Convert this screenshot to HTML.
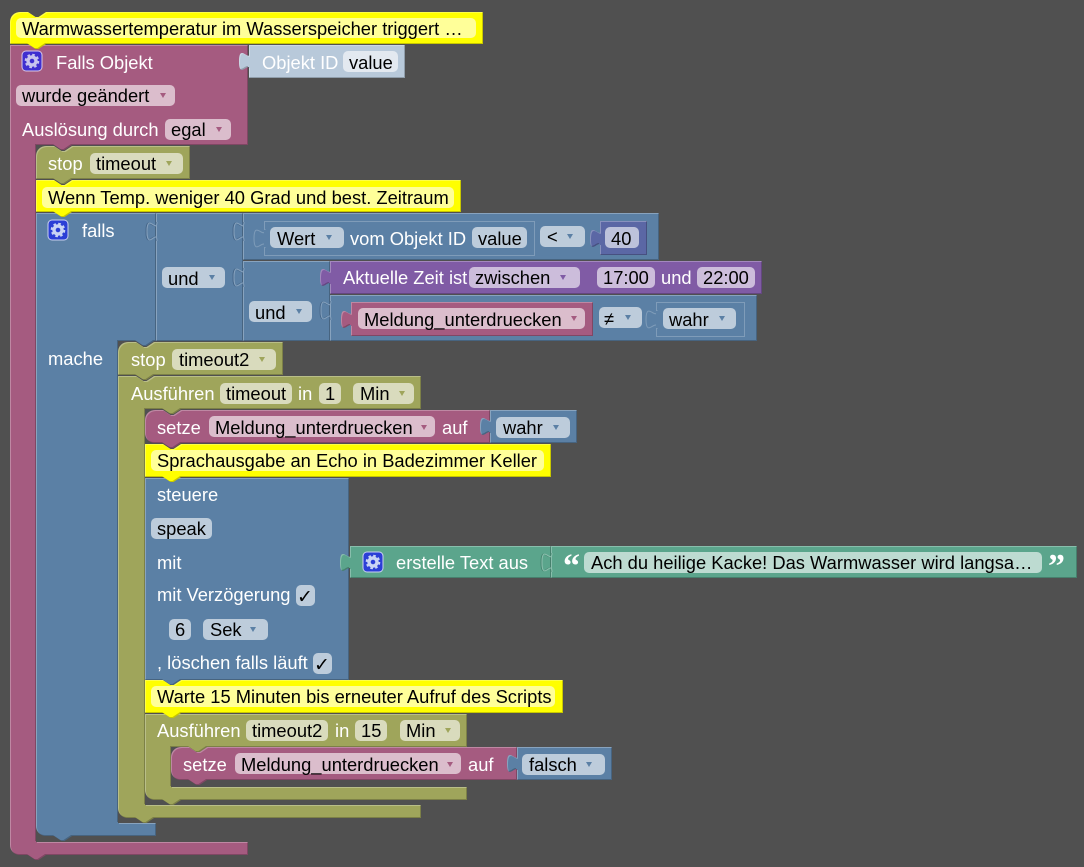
<!DOCTYPE html>
<html><head><meta charset="utf-8"><style>
html,body{margin:0;padding:0;background:#505050}
svg{display:block}
text{font-family:"Liberation Sans",sans-serif;font-size:18.33px;white-space:pre}
.w{fill:#fff}.k{fill:#000}
.m{fill:#a55b80}.b{fill:#5b80a5}.o{fill:#9fa55b}.p{fill:#805ba5}.t{fill:#5ba58c}.i{fill:#5b67a5}.y{fill:#ff0}.l{fill:#b8c9da}
.f{filter:url(#bev)}
.fm{fill:#dbbdcc}.fb{fill:#bdccdb}.fo{fill:#d9dbbd}.fy{fill:#ff9}.fp{fill:#ccbddb}.ft{fill:#bddbd1}.fi{fill:#bdc2db}.fl{fill:#e3e9f0}
.am{fill:#a55b80}.ab{fill:#5b80a5}.ao{fill:#9fa55b}.ap{fill:#805ba5}
.q{font-family:"Liberation Serif",serif;font-size:34px;font-weight:bold}
.c{font-family:"DejaVu Sans",sans-serif;font-size:19px}
</style></head><body>
<svg width="1084" height="867" viewBox="0 0 1084 867" xmlns="http://www.w3.org/2000/svg">
<defs>
<filter id="bev" x="-5%" y="-10%" width="110%" height="120%" color-interpolation-filters="sRGB">
<feOffset in="SourceAlpha" dx="1" dy="1" result="o1"/>
<feComposite in="SourceAlpha" in2="o1" operator="out" result="lt"/>
<feFlood flood-color="#fff" flood-opacity=".28"/><feComposite in2="lt" operator="in" result="ltc"/>
<feOffset in="SourceAlpha" dx="-1" dy="-1" result="o2"/>
<feComposite in="SourceAlpha" in2="o2" operator="out" result="dk"/>
<feFlood flood-color="#000" flood-opacity=".22"/><feComposite in2="dk" operator="in" result="dkc"/>
<feMerge><feMergeNode in="SourceGraphic"/><feMergeNode in="ltc"/><feMergeNode in="dkc"/></feMerge>
</filter>
<path id="tab" d="M1 0c0 12-11-10-11 9.500s11-3 11 9.500z"/>
<g id="sock"><path d="M0 0c0 12-10-10-10 9.500s10-3 10 9.500" fill="none" stroke="#47678a"/><path d="M1 0c0 12-10-10-10 9.500s10-3 10 9.500" fill="none" stroke="#84a0bc"/></g>
<g id="sockt"><path d="M0 0c0 12-10-10-10 9.500s10-3 10 9.500" fill="none" stroke="#478570"/><path d="M1 0c0 12-10-10-10 9.500s10-3 10 9.500" fill="none" stroke="#8cc0ae"/></g>
<g id="gear"><circle r="4" fill="none" stroke-width="3.400"/><circle r="6.200" fill="none" stroke-width="2.200" stroke-dasharray="2.600 2.270"/></g>
</defs>
<rect width="1084" height="867" fill="#505050"/>

<!-- inner setze + falsch -->
<path class="m f" d="M171 757a10 10 0 0 1 10-10H189l7.500 5h3l7.500-5H517V780H207l-7.500 5h-3l-7.500-5H181a10 10 0 0 1-10-10Z"/>
<g class="f"><path class="b" d="M517 747H612V780H517Z"/><use href="#tab" transform="translate(517 754)" class="b"/></g>
<text class="w" x="183" y="771">setze</text>
<rect class="fm" x="235" y="753" width="226" height="21" rx="5"/>
<text class="k" x="241" y="771">Meldung_unterdruecken</text>
<path class="am" d="M447 762h6l-3 5z"/>
<text class="w" x="468" y="771">auf</text>
<rect class="fb" x="522" y="754" width="83" height="21" rx="5"/>
<text class="k" x="529" y="771">falsch</text>
<path class="ab" d="M586 762h6l-3 5z"/>

<!-- inner Ausfuehren -->
<path class="o f" d="M145 714H467V747H207l-7.500 5h-3l-7.500-5H171V787H467V800H181l-7.500 5h-3l-7.500-5H155a10 10 0 0 1-10-10Z"/>
<text class="w" x="157" y="737">Ausführen</text>
<rect class="fo" x="246" y="720" width="82" height="21" rx="5"/>
<text class="k" x="252" y="737">timeout2</text>
<text class="w" x="335" y="737">in</text>
<rect class="fo" x="355" y="720" width="32" height="21" rx="5"/>
<text class="k" x="361" y="737">15</text>
<rect class="fo" x="400" y="720" width="60" height="21" rx="5"/>
<text class="k" x="406" y="737">Min</text>
<path class="ao" d="M445 728h6l-3 5z"/>

<!-- comment 4 -->
<path class="y f" d="M145 680H163l7.500 5h3l7.500-5H563V713H181l-7.500 5h-3l-7.500-5H145Z"/>
<rect class="fy" x="151" y="686" width="404" height="21" rx="5"/>
<text class="k" x="157" y="703">Warte 15 Minuten bis erneuter Aufruf des Scripts</text>

<!-- steuere -->
<path class="b f" d="M145 478H349V680H181l-7.500 5h-3l-7.500-5H145Z"/>
<text class="w" x="157" y="501">steuere</text>
<rect class="fb" x="151" y="518" width="61" height="21" rx="5"/>
<text class="k" x="157" y="535">speak</text>
<text class="w" x="157" y="569">mit</text>
<text class="w" x="157" y="601">mit Verzögerung</text>
<rect class="fb" x="296" y="585" width="19" height="21" rx="5"/>
<text class="k c" x="297" y="603">✓</text>
<rect class="fb" x="169" y="619" width="22" height="21" rx="5"/>
<text class="k" x="175" y="636">6</text>
<rect class="fb" x="203" y="619" width="65" height="21" rx="5"/>
<text class="k" x="210" y="636">Sek</text>
<path class="ab" d="M250 627h6l-3 5z"/>
<text class="w" x="157" y="669">, löschen falls läuft</text>
<rect class="fb" x="313" y="653" width="19" height="21" rx="5"/>
<text class="k c" x="314" y="671">✓</text>

<!-- teal -->
<path class="t f" d="M551 546H1077V578H551Z"/>
<g class="f"><path class="t" d="M350 546H551V578H350Z"/><use href="#tab" transform="translate(350 553)" class="t"/></g>
<use href="#sockt" transform="translate(551 553)"/>
<rect x="363" y="552" width="20" height="20" rx="4" fill="#2b3fd6" stroke="#c9d0f0"/>
<use href="#gear" transform="translate(373 562)" stroke="#c9d4f4"/>
<text class="w" x="396" y="569">erstelle Text aus</text>
<text class="w q" x="563" y="577">“</text>
<rect class="ft" x="584" y="552" width="458" height="21" rx="5"/>
<text class="k" x="591" y="569">Ach du heilige Kacke! Das Warmwasser wird langsa…</text>
<text class="w q" x="1048" y="577">”</text>

<!-- comment 3 -->
<path class="y f" d="M145 444H163l7.500 5h3l7.500-5H551V477H181l-7.500 5h-3l-7.500-5H145Z"/>
<rect class="fy" x="151" y="450" width="393" height="21" rx="5"/>
<text class="k" x="157" y="467">Sprachausgabe an Echo in Badezimmer Keller</text>

<!-- setze 1 -->
<path class="m f" d="M145 420a10 10 0 0 1 10-10H163l7.500 5h3l7.500-5H490V443H181l-7.500 5h-3l-7.500-5H155a10 10 0 0 1-10-10Z"/>
<g class="f"><path class="b" d="M490 410H577V443H490Z"/><use href="#tab" transform="translate(490 417)" class="b"/></g>
<text class="w" x="157" y="434">setze</text>
<rect class="fm" x="209" y="416" width="226" height="21" rx="5"/>
<text class="k" x="215" y="434">Meldung_unterdruecken</text>
<path class="am" d="M421 425h6l-3 5z"/>
<text class="w" x="442" y="434">auf</text>
<rect class="fb" x="496" y="417" width="74" height="21" rx="5"/>
<text class="k" x="503" y="434">wahr</text>
<path class="ab" d="M553 425h6l-3 5z"/>

<!-- outer Ausfuehren -->
<path class="o f" d="M118 376H136l7.500 5h3l7.500-5H421V409H181l-7.500 5h-3l-7.500-5H145V805H421V818H154l-7.500 5h-3l-7.500-5H128a10 10 0 0 1-10-10Z"/>
<text class="w" x="131" y="400">Ausführen</text>
<rect class="fo" x="220" y="383" width="72" height="21" rx="5"/>
<text class="k" x="226" y="400">timeout</text>
<text class="w" x="298" y="400">in</text>
<rect class="fo" x="319" y="383" width="22" height="21" rx="5"/>
<text class="k" x="325" y="400">1</text>
<rect class="fo" x="353" y="383" width="61" height="21" rx="5"/>
<text class="k" x="360" y="400">Min</text>
<path class="ao" d="M399 391h6l-3 5z"/>

<!-- stop timeout2 -->
<path class="o f" d="M118 352a10 10 0 0 1 10-10H136l7.500 5h3l7.500-5H283V375H154l-7.500 5h-3l-7.500-5H118Z"/>
<text class="w" x="131" y="366">stop</text>
<rect class="fo" x="172" y="349" width="104" height="21" rx="5"/>
<text class="k" x="179" y="366">timeout2</text>
<path class="ao" d="M259 357h6l-3 5z"/>

<!-- falls main -->
<path class="b f" d="M36 213H156V341H154l-7.500 5h-3l-7.500-5H118V823H156V836H72l-7.500 5h-3l-7.500-5H46a10 10 0 0 1-10-10Z"/>
<use href="#sock" transform="translate(156 222)"/>
<rect x="48" y="220" width="20" height="20" rx="4" fill="#2b3fd6" stroke="#c9d0f0"/>
<use href="#gear" transform="translate(58 230)" stroke="#c9d4f4"/>
<text class="w" x="82" y="237">falls</text>
<text class="w" x="48" y="365">mache</text>

<!-- outer und -->
<path class="b f" d="M156 213H243V341H156Z"/>
<use href="#sock" transform="translate(156 222)"/>
<use href="#sock" transform="translate(243 222)"/>
<use href="#sock" transform="translate(243 268)"/>
<rect class="fb" x="162" y="267" width="63" height="21" rx="5"/>
<text class="k" x="168" y="285">und</text>
<path class="ab" d="M209 275h6l-3 5z"/>

<!-- Wert row -->
<path class="b f" d="M243 213H659V260H243Z"/>
<use href="#sock" transform="translate(243 222)"/>
<path class="b" d="M264.500 221.500H534.500V255.500H264.500Z" stroke="#7f9cb9"/>
<g><use href="#tab" transform="translate(264 229)" class="b" stroke="#7f9cb9"/><rect class="b" x="264" y="230" width="2" height="17"/></g>
<rect class="fb" x="270" y="227" width="74" height="21" rx="5"/>
<text class="k" x="277" y="245">Wert</text>
<path class="ab" d="M326 235h6l-3 5z"/>
<text class="w" x="350" y="245">vom Objekt ID</text>
<rect class="fb" x="472" y="227" width="55" height="21" rx="5"/>
<text class="k" x="478" y="245">value</text>
<rect class="fb" x="540" y="226" width="45" height="21" rx="5"/>
<text class="k" x="547" y="243">&lt;</text>
<path class="ab" d="M567 234h6l-3 5z"/>
<g class="f"><path class="i" d="M600 221H647V255H600Z"/><use href="#tab" transform="translate(600 229)" class="i"/></g>
<rect class="fi" x="605" y="227" width="34" height="21" rx="5"/>
<text class="k" x="611" y="245">40</text>

<!-- inner und -->
<path class="b f" d="M243 261H330V341H243Z"/>
<use href="#sock" transform="translate(243 268)"/>
<path class="b f" d="M330 295H757V341H330Z"/>
<use href="#sock" transform="translate(330 301)"/>
<rect class="fb" x="249" y="301" width="63" height="21" rx="5"/>
<text class="k" x="255" y="319">und</text>
<path class="ab" d="M296 309h6l-3 5z"/>
<g class="f"><path class="p" d="M330 261H762V294H330Z"/><use href="#tab" transform="translate(330 268)" class="p"/></g>
<text class="w" x="343" y="284">Aktuelle Zeit ist</text>
<rect class="fp" x="469" y="267" width="111" height="21" rx="5"/>
<text class="k" x="475" y="284">zwischen</text>
<path class="ap" d="M560 275h6l-3 5z"/>
<rect class="fp" x="597" y="267" width="58" height="21" rx="5"/>
<text class="k" x="603" y="284">17:00</text>
<text class="w" x="661" y="284">und</text>
<rect class="fp" x="697" y="267" width="58" height="21" rx="5"/>
<text class="k" x="703" y="284">22:00</text>
<g class="f"><path class="m" d="M351 302H593V336H351Z"/><use href="#tab" transform="translate(351 310)" class="m"/></g>
<rect class="fm" x="358" y="308" width="227" height="21" rx="5"/>
<text class="k" x="364" y="326">Meldung_unterdruecken</text>
<path class="am" d="M571 316h6l-3 5z"/>
<rect class="fb" x="599" y="307" width="43" height="21" rx="5"/>
<text class="k" x="604" y="325">≠</text>
<path class="ab" d="M625 315h6l-3 5z"/>
<path class="b" d="M656.500 302.500H744.500V336.500H656.500Z" stroke="#7f9cb9"/>
<use href="#tab" transform="translate(656 310)" class="b" stroke="#7f9cb9"/><rect class="b" x="656" y="311" width="2" height="17"/>
<rect class="fb" x="663" y="308" width="73" height="21" rx="5"/>
<text class="k" x="669" y="326">wahr</text>
<path class="ab" d="M719 316h6l-3 5z"/>

<!-- comment 2 -->
<path class="y f" d="M36 180H54l7.500 5h3l7.500-5H461V212H72l-7.500 5h-3l-7.500-5H36Z"/>
<rect class="fy" x="42" y="187" width="412" height="21" rx="5"/>
<text class="k" x="48" y="204">Wenn Temp. weniger 40 Grad und best. Zeitraum</text>

<!-- stop -->
<path class="o f" d="M36 156a10 10 0 0 1 10-10H54l7.500 5h3l7.500-5H190V179H72l-7.500 5h-3l-7.500-5H36Z"/>
<text class="w" x="48" y="170">stop</text>
<rect class="fo" x="90" y="153" width="93" height="21" rx="5"/>
<text class="k" x="96" y="170">timeout</text>
<path class="ao" d="M166 161h6l-3 5z"/>

<!-- main maroon -->
<path class="m f" d="M10 45H248V145H72l-7.500 5h-3l-7.500-5H36V842H248V855H46l-7.500 5h-3l-7.500-5H20a10 10 0 0 1-10-10Z"/>
<g class="f"><path class="l" d="M249 45H405V78H249Z"/><use href="#tab" transform="translate(249 52)" class="l"/></g>
<text class="w" x="262" y="69">Objekt ID</text>
<rect class="fl" x="343" y="51" width="55" height="21" rx="5"/>
<text class="k" x="349" y="69">value</text>
<rect x="22" y="51" width="20" height="20" rx="4" fill="#3f2fd0" stroke="#d8c8e8"/>
<use href="#gear" transform="translate(32 61)" stroke="#c8c4ee"/>
<text class="w" x="56" y="69">Falls Objekt</text>
<rect class="fm" x="16" y="85" width="159" height="21" rx="5"/>
<text class="k" x="22" y="102">wurde geändert</text>
<path class="am" d="M160 93h6l-3 5z"/>
<text class="w" x="22" y="136">Auslösung durch</text>
<rect class="fm" x="165" y="119" width="66" height="21" rx="5"/>
<text class="k" x="171" y="136">egal</text>
<path class="am" d="M216 127h6l-3 5z"/>

<!-- comment 1 -->
<path class="y f" d="M10 22a10 10 0 0 1 10-10H28l7.500 5h3l7.500-5H483V44H46l-7.500 5h-3l-7.500-5H10Z"/>
<rect class="fy" x="16" y="18" width="460" height="20" rx="5"/>
<text class="k" x="22" y="35">Warmwassertemperatur im Wasserspeicher triggert …</text>
</svg>
</body></html>
